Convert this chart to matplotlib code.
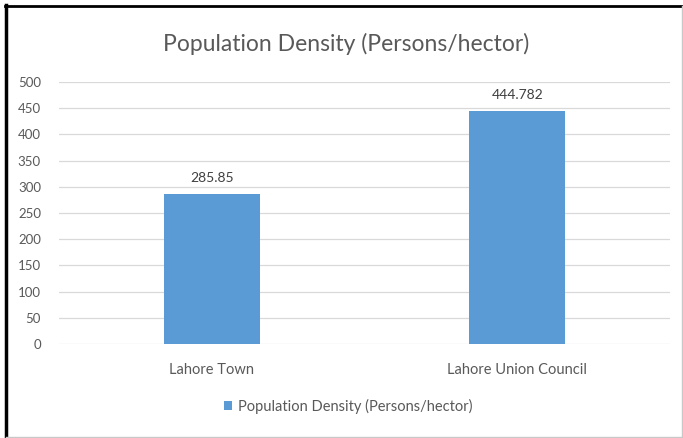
import matplotlib
matplotlib.use("Agg")
import matplotlib.pyplot as plt
import matplotlib.lines as mlines

categories = ["Lahore Town", "Lahore Union Council"]
density = [285.85, 444.782]
value_labels = ["285.85", "444.782"]
yticks = [0, 50, 100, 150, 200, 250, 300, 350, 400, 450, 500]
series_name = "Population Density (Persons/hector)"

plt.rcParams['font.family'] = ['Lato', 'DejaVu Sans']

W, H = 683, 438
fig = plt.figure(figsize=(W / 100, H / 100), dpi=100)
fig.patch.set_facecolor("white")

# plot area in pixels: x 59..670, y 82..344
ax = fig.add_axes([59 / W, 1 - 344 / H, (670 - 59) / W, (344 - 82) / H])

xs = range(len(categories))
bars = ax.bar(xs, density, width=0.315, color="#5b9bd5", zorder=3,
              label=series_name)
for b, txt in zip(bars, value_labels):
    ax.annotate(txt, (b.get_x() + b.get_width() / 2, b.get_height()),
                xytext=(0, 7), textcoords="offset points",
                ha="center", va="bottom", fontsize=10, color="#404040")

ax.set_xlim(-0.5, 1.5)
ax.set_ylim(0, 500)
ax.set_yticks(yticks)
ax.set_xticks(list(xs))
ax.set_xticklabels(categories, fontsize=10.5)
ax.yaxis.grid(True, color="#d9d9d9", linewidth=0.9, zorder=0)
for s in ax.spines.values():
    s.set_visible(False)
ax.tick_params(axis="both", length=0, colors="#595959")
ax.tick_params(axis="y", pad=13, labelsize=9.5)
ax.tick_params(axis="x", pad=14)

fig.text(346 / W, 1 - 44 / H, "Population Density (Persons/hector)",
         ha="center", va="center", fontsize=16.5, color="#595959")

leg = fig.legend(handles=[bars], labels=[series_name], loc="center",
                 bbox_to_anchor=(348 / W, 1 - 406 / H), frameon=False,
                 fontsize=10.5, handlelength=0.55, handleheight=0.55,
                 handletextpad=0.4, labelcolor="#595959")

# outer border: dark on top/left, light on right/bottom
fig.add_artist(mlines.Line2D([6 / W, 6 / W], [0, 1 - 5 / H], color="black",
                             linewidth=2.5, transform=fig.transFigure))
fig.add_artist(mlines.Line2D([5 / W, 1], [1 - 6 / H, 1 - 6 / H], color="black",
                             linewidth=2.0, transform=fig.transFigure))
fig.add_artist(mlines.Line2D([681.5 / W, 681.5 / W], [1 / H, 1 - 6 / H], color="#c8c8c8",
                             linewidth=1.0, transform=fig.transFigure))
fig.add_artist(mlines.Line2D([6 / W, 1], [1.5 / H, 1.5 / H], color="#c8c8c8",
                             linewidth=1.0, transform=fig.transFigure))

fig.savefig("out.png", dpi=100)
